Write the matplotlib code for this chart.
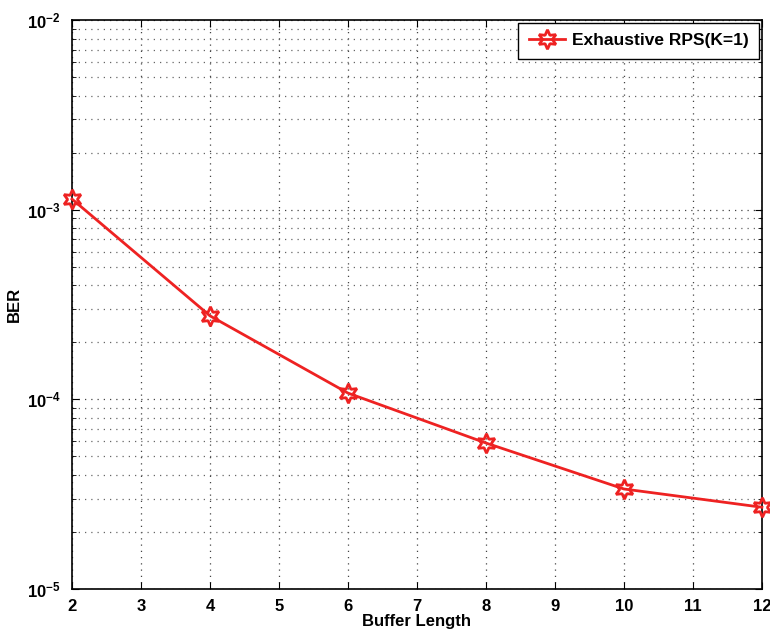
import numpy as np
import matplotlib
matplotlib.use('Agg')
import matplotlib.pyplot as plt
from matplotlib.ticker import LogLocator, NullFormatter

plt.rcParams['font.family'] = ['Liberation Sans', 'DejaVu Sans']
plt.rcParams['font.weight'] = 'bold'
plt.rcParams['mathtext.fontset'] = 'custom'
plt.rcParams['mathtext.rm'] = 'Liberation Sans:bold'
plt.rcParams['mathtext.bf'] = 'Liberation Sans:bold'
plt.rcParams['mathtext.default'] = 'bf'

buffer_len = [2, 4, 6, 8, 10, 12]
ber = [1.14e-3, 2.76e-4, 1.08e-4, 5.89e-5, 3.37e-5, 2.70e-5]
label = 'Exhaustive RPS(K=1)'

fig = plt.figure(figsize=(7.7, 6.32), dpi=100)
ax = fig.add_axes([0.0935, 0.068, 0.896, 0.900])

ax.semilogy(buffer_len, ber, color='#ee2222', lw=2, marker=(6, 1, 0), ms=14,
            mfc='none', mec='#ee2222', mew=2, label=label, clip_on=False, zorder=5)

ax.set_xlim(2, 12)
ax.set_ylim(1e-5, 1e-2)
ax.set_xticks(range(2, 13))
ax.yaxis.set_major_locator(LogLocator(base=10, numticks=10))
ax.yaxis.set_minor_locator(LogLocator(base=10, subs=np.arange(2, 10), numticks=10))
ax.yaxis.set_minor_formatter(NullFormatter())

dots = (0, (1, 4))
ax.grid(True, which='major', ls=dots, color='#444444', lw=0.9)
ax.grid(True, which='minor', axis='y', ls=dots, color='#666666', lw=0.9)
ax.tick_params(which='both', direction='in', top=True, right=True, labelsize=12)
ax.tick_params(which='major', length=5)
ax.tick_params(which='minor', length=3)
ax.tick_params(axis='x', pad=7)
ax.tick_params(axis='y', pad=8)
for s in ax.spines.values():
    s.set_linewidth(1.2)

ax.set_xlabel('Buffer Length', fontsize=12, fontweight='bold', labelpad=0)
ax.set_ylabel('BER', fontsize=12, fontweight='bold', labelpad=4)

leg = ax.legend(loc='upper right', fontsize=12.5, fancybox=False, framealpha=1,
                edgecolor='black', borderaxespad=0.15, handlelength=2.1,
                borderpad=0.6, handletextpad=0.4)
leg.get_frame().set_linewidth(1.0)

fig.savefig('out.png', dpi=100)
